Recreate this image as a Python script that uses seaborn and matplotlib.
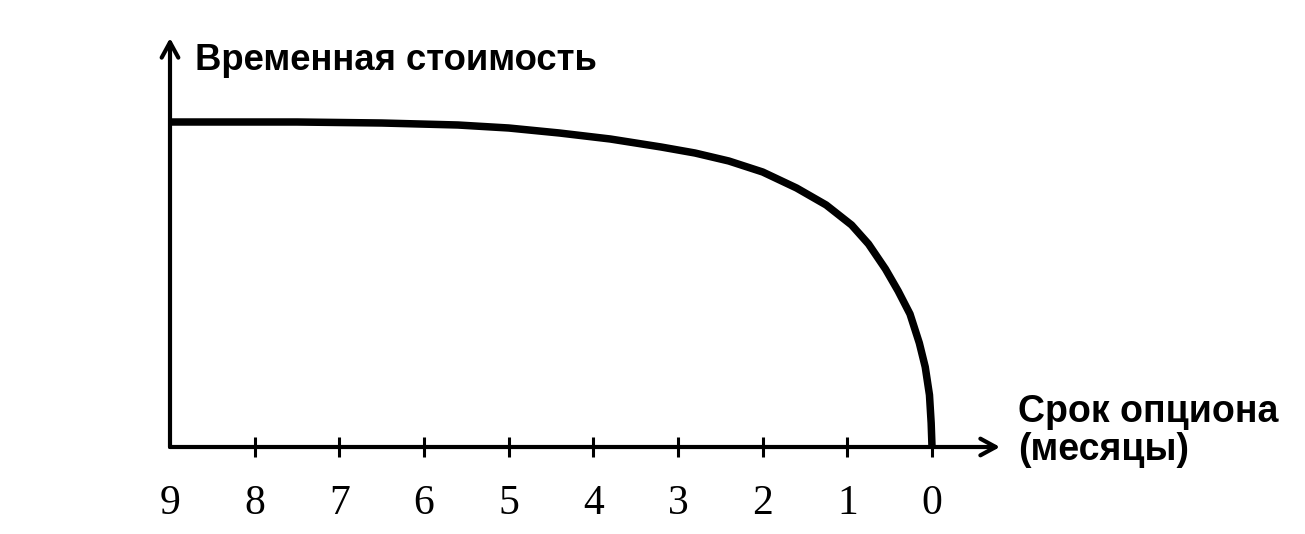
import matplotlib
matplotlib.use("Agg")
import matplotlib.pyplot as plt
import seaborn as sns
import pandas as pd

# Data
months = [9, 7.5, 6.5, 5.6, 5.0, 4.4, 3.8, 3.2, 2.8, 2.4, 2.0, 1.6, 1.25, 0.95,
          0.75, 0.55, 0.40, 0.26, 0.15, 0.08, 0.03, 0.01, 0]
time_value = [3.25, 3.25, 3.24, 3.22, 3.19, 3.14, 3.08, 3.00, 2.94, 2.86, 2.75, 2.59,
              2.42, 2.22, 2.03, 1.78, 1.56, 1.33, 1.04, 0.80, 0.52, 0.24, 0]
tick_months = [9, 8, 7, 6, 5, 4, 3, 2, 1, 0]
tick_labels = ["9", "8", "7", "6", "5", "4", "3", "2", "1", "0"]
y_label = "Временная стоимость"
x_label_1 = "Срок опциона"
x_label_2 = "(месяцы)"

sns.set_theme(style="white")
plt.rcParams["font.family"] = ["Liberation Sans", "DejaVu Sans"]
plt.rcParams["text.color"] = "black"
plt.rcParams["xtick.color"] = "black"

W, H = 1305, 534
fig = plt.figure(figsize=(W / 100, H / 100), dpi=100)
ax = fig.add_axes([170 / W, (H - 447) / H, (1000 - 170) / W, (447 - 38) / H])

df = pd.DataFrame({"month": months, "value": time_value})
sns.lineplot(data=df, x="month", y="value", ax=ax, color="black", linewidth=5.4,
             solid_capstyle="butt", solid_joinstyle="round")

ax.set_xlim(9, -0.803)
ax.set_ylim(0, 4.09)
for s in ax.spines.values():
    s.set_visible(False)

ax.set_xticks(tick_months)
ax.set_xticklabels(tick_labels, family="Liberation Serif", fontsize=30, color="black")
ax.tick_params(axis="x", direction="inout", length=14, width=2.2, color="black",
               pad=20, bottom=True)
ax.xaxis.get_major_ticks()[0].tick1line.set_visible(False)
ax.set_yticks([])
ax.set_xlabel("")
ax.set_ylabel("")

arrow = dict(arrowstyle="->,head_length=0.55,head_width=0.3", lw=3, color="black",
             shrinkA=0, shrinkB=0, mutation_scale=20)
ax.annotate("", xy=(1, 0), xytext=(0, 0), xycoords="axes fraction", arrowprops=arrow)
ax.annotate("", xy=(0, 1), xytext=(0, 0), xycoords="axes fraction", arrowprops=arrow)

fig.text(195 / W, 1 - 70 / H, y_label, fontsize=26.3, fontweight="bold",
         va="baseline", ha="left", color="black")
fig.text(1018 / W, 1 - 422 / H, x_label_1, fontsize=27, fontweight="bold",
         va="baseline", ha="left", color="black")
fig.text(1018 / W, 1 - 460 / H, x_label_2, fontsize=27, fontweight="bold",
         va="baseline", ha="left", color="black")

fig.savefig("out.png", dpi=100, facecolor="white")
